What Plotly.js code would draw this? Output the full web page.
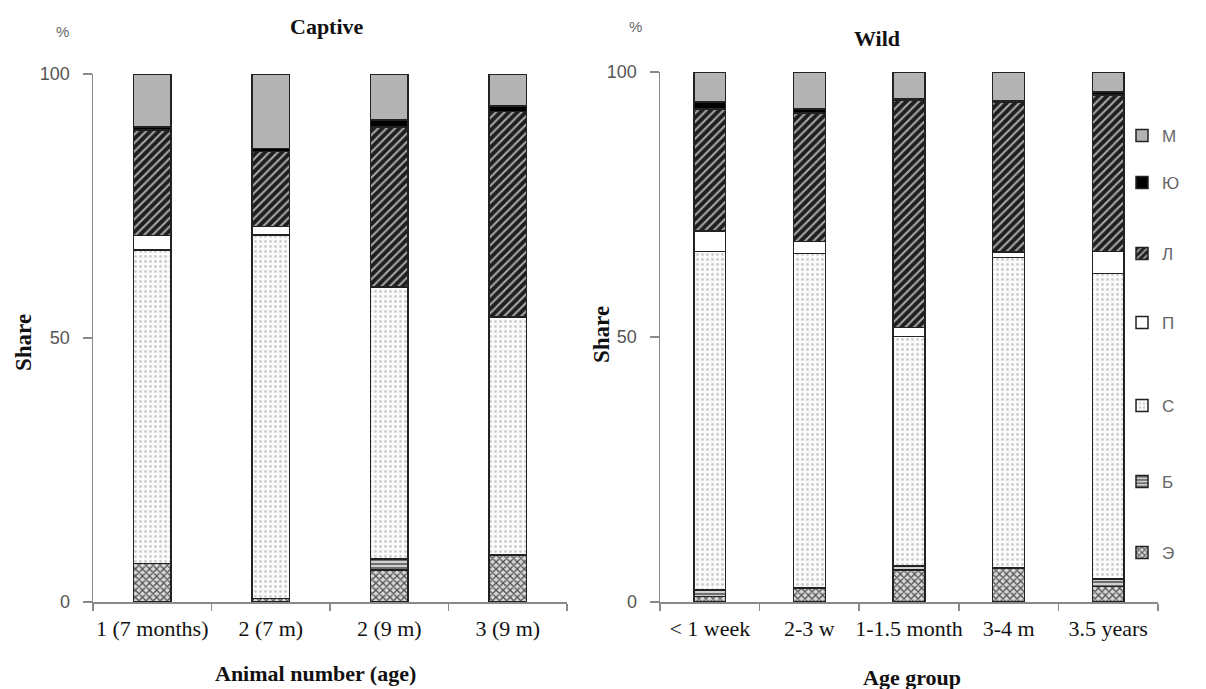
<!DOCTYPE html>
<html>
<head>
<meta charset="utf-8">
<script src="https://cdn.plot.ly/plotly-3.0.1.min.js"></script>
<style>html,body{margin:0;padding:0;background:#fff;}#chart{width:1206px;height:689px;}</style>
</head>
<body>
<div id="chart"></div>
<script>
// ---- Data ----
const categoriesCaptive = ["1 (7 months)", "2 (7 m)", "2 (9 m)", "3 (9 m)"];
const categoriesWild = ["< 1 week", "2-3 w", "1-1.5 month", "3-4 m", "3.5 years"];
const seriesNames = ["Э", "Б", "С", "П", "Л", "Ю", "М"]; // bottom to top

const captiveE  = [7.3, 0.7, 6.1, 8.9];
const captiveB  = [0.0, 0.0, 2.0, 0.0];
const captiveS  = [59.4, 68.8, 51.6, 45.1];
const captiveP  = [2.7, 1.6, 0.0, 0.0];
const captiveL  = [20.0, 14.2, 30.3, 38.9];
const captiveYu = [0.6, 0.6, 1.3, 1.0];
const captiveM  = [10.0, 14.1, 8.7, 6.1];

const wildE  = [1.0, 2.6, 6.0, 6.4, 2.9];
const wildB  = [1.3, 0.0, 0.8, 0.0, 1.4];
const wildS  = [63.8, 63.2, 43.3, 58.6, 57.7];
const wildP  = [3.9, 2.2, 1.7, 1.0, 4.1];
const wildL  = [23.0, 24.3, 42.9, 28.3, 29.6];
const wildYu = [1.3, 0.7, 0.3, 0.2, 0.5];
const wildM  = [5.7, 7.0, 5.0, 5.5, 3.8];

const yTickVals = [0, 50, 100];

// ---- Styles ----
const styles = {
  "Э": {color: "#cfcfcf", pattern: {shape: "x", fgcolor: "#505050", bgcolor: "#d8d8d8", size: 5, solidity: 0.45}},
  "Б": {color: "#bdbdbd", pattern: {shape: "-", fgcolor: "#555555", bgcolor: "#d0d0d0", size: 4, solidity: 0.4}},
  "С": {color: "#fafafa", pattern: {shape: ".", fgcolor: "#cdcdcd", bgcolor: "#fbfbfb", size: 5, solidity: 0.25}},
  "П": {color: "#ffffff", pattern: {shape: ""}},
  "Л": {color: "#1e1e1e", pattern: {shape: "/", fgcolor: "#a8a8a8", bgcolor: "#1e1e1e", size: 6, solidity: 0.35}},
  "Ю": {color: "#000000", pattern: {shape: ""}},
  "М": {color: "#b3b3b3", pattern: {shape: ""}}
};

const captiveVals = {"Э": captiveE, "Б": captiveB, "С": captiveS, "П": captiveP, "Л": captiveL, "Ю": captiveYu, "М": captiveM};
const wildVals = {"Э": wildE, "Б": wildB, "С": wildS, "П": wildP, "Л": wildL, "Ю": wildYu, "М": wildM};

const legendIds = {"М": "legend", "Ю": "legend2", "Л": "legend3", "П": "legend4", "С": "legend5", "Б": "legend6", "Э": "legend7"};
const legendY   = {"М": 136, "Ю": 183, "Л": 254, "П": 323, "С": 406, "Б": 482, "Э": 553};

const traces = [];
seriesNames.forEach(n => {
  const st = styles[n];
  const marker = {color: st.color, pattern: st.pattern, line: {color: "#222", width: 1.5}};
  traces.push({type: "bar", name: n, x: categoriesCaptive, y: captiveVals[n], xaxis: "x", yaxis: "y",
    marker: marker, showlegend: false, hoverinfo: "name+y"});
  traces.push({type: "bar", name: n, x: categoriesWild, y: wildVals[n], xaxis: "x2", yaxis: "y2",
    marker: marker, showlegend: true, legend: legendIds[n], hoverinfo: "name+y"});
});

const H = 689, W = 1206;
const serif = "Liberation Serif, Times New Roman, serif";
const sans = "Liberation Sans, Arial, sans-serif";

function xAxis(domain, anchor) {
  return {domain: domain, anchor: anchor, type: "category", showline: true, linecolor: "#8a8a8a", linewidth: 1.5,
    ticks: "outside", tickson: "boundaries", ticklen: 7, tickcolor: "#8a8a8a", tickwidth: 1.5, tickangle: 0,
    ticklabelstandoff: 6, tickfont: {family: serif, size: 22, color: "#111"}, showgrid: false, fixedrange: true};
}
function yAxis(domain, anchor) {
  return {domain: domain, anchor: anchor, range: [0, 100], tickvals: yTickVals, showline: true,
    linecolor: "#8a8a8a", linewidth: 1.5, ticks: "outside", ticklen: 9, tickcolor: "#8a8a8a", tickwidth: 1.5,
    ticklabelstandoff: 9, tickfont: {family: sans, size: 18, color: "#555"}, showgrid: false, zeroline: false, fixedrange: true};
}

function ann(text, px, py, size, family, color, angle) {
  return {text: text, x: px/W, y: 1 - py/H, xref: "paper", yref: "paper", xanchor: "center", yanchor: "middle",
    showarrow: false, textangle: angle || 0, font: {family: family, size: size, color: color}};
}

const layout = {
  width: W, height: H,
  margin: {l: 0, r: 0, t: 0, b: 0},
  paper_bgcolor: "#fff", plot_bgcolor: "#fff",
  barmode: "stack", bargap: 0.68,
  xaxis: xAxis([93/W, 567/W], "y"),
  yaxis: yAxis([(H-602)/H, (H-74)/H], "x"),
  xaxis2: xAxis([660/W, 1158/W], "y2"),
  yaxis2: yAxis([(H-602)/H, (H-72)/H], "x2"),
  annotations: [
    ann("<b>Captive</b>", 327, 27, 22, serif, "#111"),
    ann("<b>Wild</b>", 877, 38, 22, serif, "#111"),
    ann("%", 62, 31, 15, sans, "#666"),
    ann("%", 635, 27, 15, sans, "#666"),
    ann("<b>Share</b>", 24, 343, 23, serif, "#111", -90),
    ann("<b>Share</b>", 601, 335, 23, serif, "#111", -90),
    ann("<b>Animal number (age)</b>", 315, 673, 22, serif, "#111"),
    ann("<b>Age group</b>", 912, 677, 22, serif, "#111")
  ]
};

seriesNames.forEach(n => {
  layout[legendIds[n]] = {x: 1122/W, y: 1 - legendY[n]/H, xanchor: "left", yanchor: "middle",
    font: {family: sans, size: 17, color: "#666"}, bgcolor: "rgba(0,0,0,0)", borderwidth: 0, itemwidth: 30};
});

Plotly.newPlot("chart", traces, layout, {displayModeBar: false, staticPlot: true});
</script>
</body>
</html>
